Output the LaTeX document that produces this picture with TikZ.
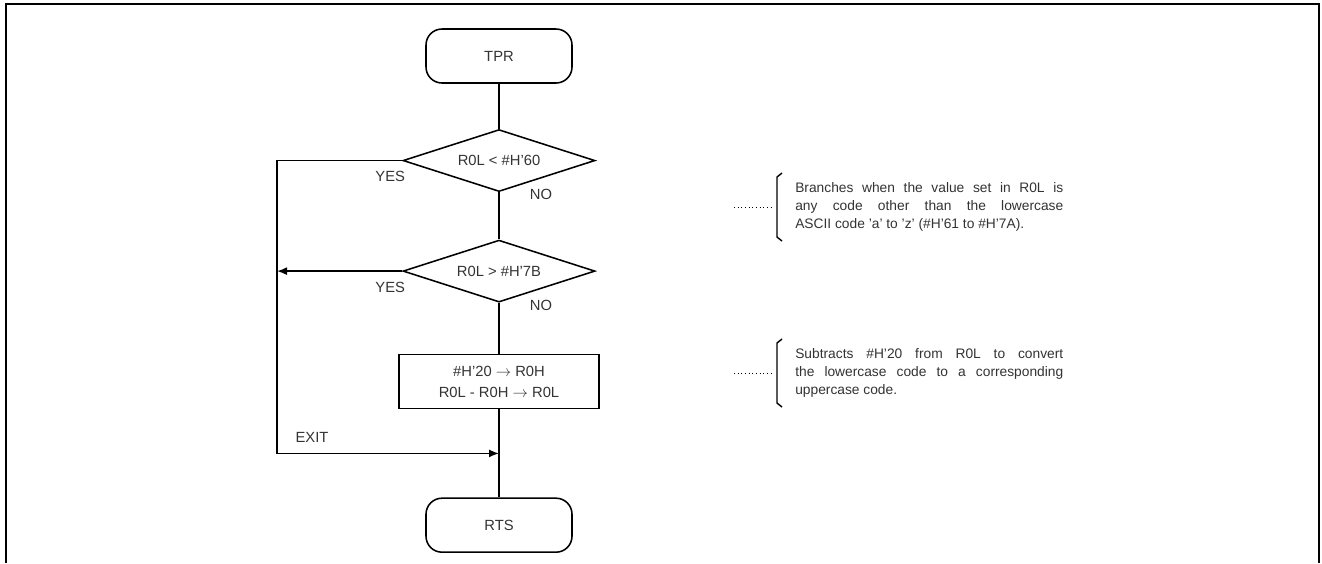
\documentclass[tikz,border=0pt]{standalone}
\usepackage{fontspec}
\setmainfont{Liberation Sans}
\usetikzlibrary{arrows.meta,shapes,positioning,calc}

\begin{document}
\begin{tikzpicture}[
    flowfont/.style={font=\fontsize{10.5}{15}\selectfont, text=black!80},
    terminal/.style={rectangle, draw, rounded corners=0.4cm, minimum width=3.65cm, minimum height=1.35cm, line width=1.1pt, flowfont},
    decision/.style={diamond, draw, aspect=3, minimum width=4.8cm, minimum height=1.55cm, inner sep=0pt, line width=1.1pt, flowfont},
    process/.style={rectangle, draw, minimum width=5cm, minimum height=1.35cm, align=center, line width=1.1pt, flowfont},
    lbl/.style={inner sep=0pt, flowfont},
    note/.style={inner sep=0pt, align=left, font=\fontsize{9.8}{13}\selectfont, text=black!80},
    line/.style={line width=1.1pt},
    arrow/.style={-{Latex[length=0.25cm,width=0.2cm]}, line width=1.1pt},
    bracket/.style={line width=1pt},
    leader/.style={dotted, line width=0.6pt}
]
    \useasboundingbox (0,0) rectangle (33.05,-14.075);
    % frame
    \draw[line width=1.4pt] (0.15,-14.075) -- (0.15,-0.1) -- (32.975,-0.1) -- (32.975,-14.075);

    \node[terminal] (tpr) at (12.475,-1.4) {TPR};
    \node[decision, below=1.125cm of tpr] (lt60) {R0L < \#H'60};
    \node[decision, below=1.175cm of lt60] (gt7b) {R0L > \#H'7B};
    \node[process, below=1.275cm of gt7b] (conv) {\#H'20 $\rightarrow$ R0H\\R0L - R0H $\rightarrow$ R0L};
    \node[terminal, below=2.2cm of conv] (rts) {RTS};

    \coordinate[below=1.1cm of conv] (join);
    \coordinate (corner) at ($(join)+(-5.55,0)$);

    \draw[line] (tpr) -- (lt60);
    \draw[line] (lt60) -- (gt7b);
    \draw[line] (gt7b) -- (conv);
    \draw[line] (conv) -- (rts);
    \draw[arrow] (lt60.west) -| (corner) -- (join);
    \draw[arrow] (gt7b.west) -- (gt7b.west -| corner);

    \node[lbl] (yes1) at ($(lt60.west)+(-0.3,-0.4)$) {YES};
    \node[lbl] (no1) at ($(lt60.south)+(1.05,-0.05)$) {NO};
    \node[lbl] (yes2) at ($(gt7b.west)+(-0.3,-0.4)$) {YES};
    \node[lbl] (no2) at ($(gt7b.south)+(1.05,-0.075)$) {NO};
    \node[lbl] (exit) at ($(corner)+(0.875,0.4)$) {EXIT};

    % notes
    \node[note, anchor=west] (note1) at (19.875,-5.175) {\makebox[6.7cm][s]{Branches when the value set in R0L is}\\\makebox[6.7cm][s]{any code other than the lowercase}\\ASCII code 'a' to 'z' (\#H'61 to \#H'7A).};
    \node[note, anchor=west] (note2) at (19.875,-9.325) {\makebox[6.7cm][s]{Subtracts \#H'20 from R0L to convert}\\\makebox[6.7cm][s]{the lowercase code to a corresponding}\\uppercase code.};

    \draw[bracket] ($(note1.west)+(-0.325,0.85)$) -- ($(note1.west)+(-0.45,0.75)$) -- ($(note1.west)+(-0.45,-0.75)$) -- ($(note1.west)+(-0.325,-0.85)$);
    \draw[leader] ($(note1.west)+(-1.525,0)$) -- ($(note1.west)+(-0.575,0)$);
    \draw[bracket] ($(note2.west)+(-0.325,0.85)$) -- ($(note2.west)+(-0.45,0.75)$) -- ($(note2.west)+(-0.45,-0.75)$) -- ($(note2.west)+(-0.325,-0.85)$);
    \draw[leader] ($(note2.west)+(-1.525,0)$) -- ($(note2.west)+(-0.575,0)$);
\end{tikzpicture}
\end{document}
